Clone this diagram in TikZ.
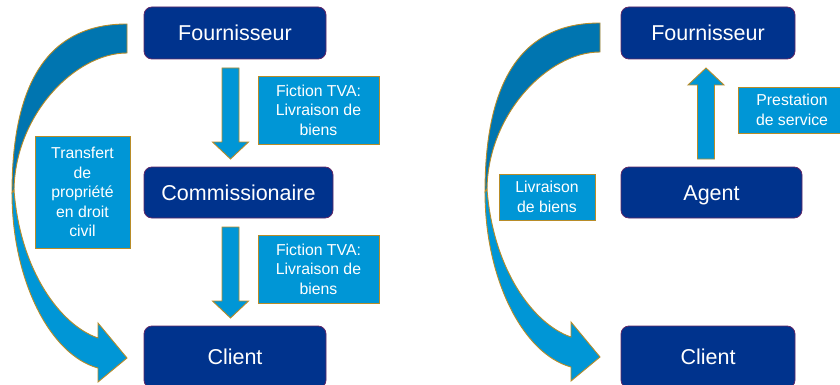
\documentclass[tikz,border=0pt]{standalone}
\usepackage{fontspec}
\setmainfont{Liberation Sans}
\usetikzlibrary{calc}
\definecolor{navy}{RGB}{0,51,141}
\definecolor{navyedge}{RGB}{96,40,104}
\definecolor{lblue}{RGB}{0,150,214}
\definecolor{dblue}{RGB}{0,117,176}
\definecolor{gold}{RGB}{184,140,40}
\tikzset{
  darkbox/.style={draw=navyedge, line width=0.8pt, fill=navy, rounded corners=8pt,
    text=white, font=\fontsize{21.5}{24}\selectfont, inner sep=0pt,
    text height=15.4pt, text depth=0pt},
  lightbox/.style={draw=gold, line width=0.9pt, fill=lblue, text=white,
    font=\fontsize{15.8}{19.5}\selectfont, align=center, inner sep=0pt},
  barrow/.style={draw=gold, line width=0.9pt, fill=lblue, line join=miter},
  curvtop/.style={draw=gold, line width=0.9pt, fill=dblue},
  curvbot/.style={draw=gold, line width=0.9pt, fill=lblue},
  pics/curvarrow/.style={code={
    \filldraw[curvtop] (127,24) .. controls (50,24) and (12,80) .. (12,193)
      -- (14,190) .. controls (15,115) and (75,53) .. (127,53) -- cycle;
    \filldraw[curvbot] (12,193) .. controls (12,280) and (50,355) .. (98,368)
      -- (98,382) -- (127,358) -- (98,323) -- (98,338)
      .. controls (60,325) and (20,270) .. (14,190) -- cycle;
  }}
}
% #1 start coordinate, #2 tip coordinate, #3 = 1 downward, -1 upward
\newcommand\BlockArrow[3]{%
  \filldraw[barrow] let \p1=(#1), \p2=(#2) in
    ({\x1-8.5pt},\y1) -- ({\x1-8.5pt},{\y2+(#3)*17pt}) -- ({\x1-18pt},{\y2+(#3)*17pt})
    -- (\x1,\y2) -- ({\x1+18pt},{\y2+(#3)*17pt}) -- ({\x1+8.5pt},{\y2+(#3)*17pt})
    -- ({\x1+8.5pt},\y1) -- cycle;}
\begin{document}
\begin{tikzpicture}[x=1pt,y=-1pt]
\useasboundingbox (0,0) rectangle (840,385);
\clip (0,0) rectangle (840,385);
\fill[white] (0,0) rectangle (840,385);

% curved arrows
\pic (cl) at (0,0) {curvarrow};
\pic (cr) at (473,-1) {curvarrow};

% left panel
\node[darkbox, minimum width=182pt, minimum height=52pt] (f1) at (235,33) {Fournisseur};
\node[darkbox, minimum width=189pt, minimum height=51pt] (c1) at (238.5,192.5) {Commissionaire};
\node[darkbox, minimum width=182pt, minimum height=62pt] (cl1) at (235,357) {Client};

\coordinate (a1s) at (230.5,68);
\coordinate (a1e) at (230.5,159);
\coordinate (a2s) at (230.5,227);
\coordinate (a2e) at (230.5,318);
\BlockArrow{a1s}{a1e}{1}
\BlockArrow{a2s}{a2e}{1}

\node[lightbox, minimum width=121pt, minimum height=68pt] (fic1) at (318.5,110) {Fiction TVA:\\Livraison de\\biens};
\node[lightbox, minimum width=121pt, minimum height=68pt] (fic2) at (318.5,269) {Fiction TVA:\\Livraison de\\biens};
\node[lightbox, minimum width=95pt, minimum height=112pt] (tr) at (82.5,192) {Transfert\\de\\propriété\\en droit\\civil};

% right panel
\node[darkbox, minimum width=174pt, minimum height=52pt] (f2) at (708,33) {Fournisseur};
\node[darkbox, minimum width=181pt, minimum height=51pt] (ag) at (711.5,192.5) {Agent};
\node[darkbox, minimum width=174pt, minimum height=62pt] (cl2) at (708,357) {Client};

\coordinate (a3s) at (706,159);
\coordinate (a3e) at (706,68);
\BlockArrow{a3s}{a3e}{-1}

\node[lightbox, minimum width=108pt, minimum height=46pt] (pr) at (792,110) {Prestation\\de service};
\node[lightbox, minimum width=96pt, minimum height=46pt] (lv) at (547,197) {Livraison\\de biens};
\end{tikzpicture}
\end{document}
